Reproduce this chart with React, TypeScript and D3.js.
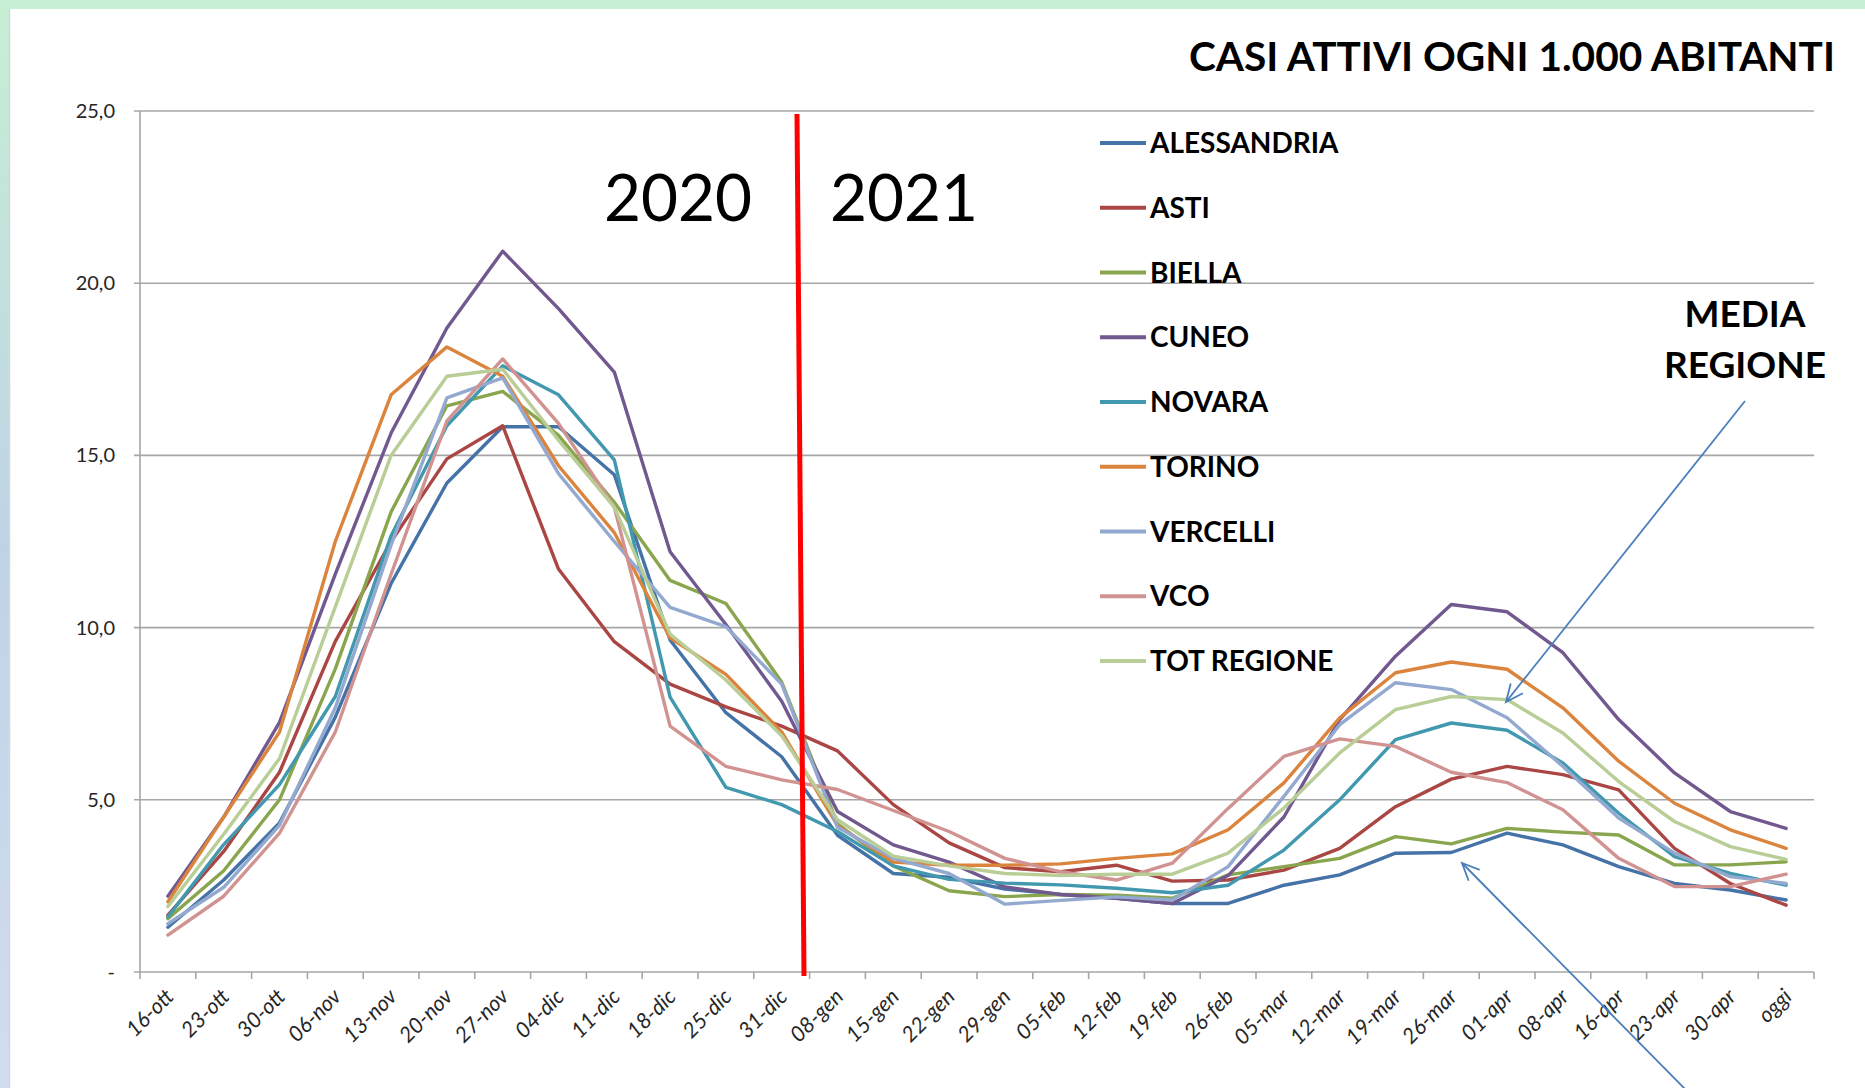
import React from "react";
import * as d3 from "d3";

const categories = ["16-ott","23-ott","30-ott","06-nov","13-nov","20-nov","27-nov","04-dic","11-dic","18-dic","25-dic","31-dic","08-gen","15-gen","22-gen","29-gen","05-feb","12-feb","19-feb","26-feb","05-mar","12-mar","19-mar","26-mar","01-apr","08-apr","16-apr","23-apr","30-apr","oggi"];

const alessandria = [1.3,2.67,4.33,7.4,11.28,14.2,15.83,15.83,14.44,9.64,7.53,6.25,3.97,2.86,2.75,2.41,2.25,2.14,1.99,1.99,2.52,2.82,3.45,3.47,4.03,3.69,3.06,2.57,2.38,2.09];
const asti = [1.65,3.5,5.8,9.6,12.5,14.9,15.86,11.7,9.59,8.36,7.7,7.14,6.42,4.86,3.75,3.03,2.91,3.1,2.64,2.67,2.96,3.59,4.8,5.6,5.97,5.73,5.29,3.59,2.57,1.94];
const biella = [1.55,2.94,5.0,8.8,13.36,16.44,16.86,15.58,13.64,11.37,10.7,8.42,4.3,3.08,2.36,2.19,2.25,2.23,2.14,2.82,3.06,3.3,3.93,3.72,4.17,4.06,3.98,3.11,3.11,3.2];
const cuneo = [2.2,4.5,7.25,11.55,15.65,18.7,20.93,19.26,17.42,12.2,10.09,7.86,4.66,3.69,3.19,2.47,2.25,2.14,1.99,2.8,4.5,7.33,9.17,10.67,10.46,9.27,7.33,5.78,4.66,4.17];
const novara = [1.6,3.7,5.44,8.0,12.67,15.86,17.6,16.76,14.87,7.98,5.36,4.86,4.08,3.08,2.69,2.58,2.53,2.43,2.3,2.52,3.54,5.0,6.75,7.23,7.02,6.07,4.61,3.35,2.86,2.52];
const torino = [2.04,4.5,6.97,12.5,16.76,18.15,17.3,14.7,12.76,9.7,8.64,6.97,4.25,3.19,3.1,3.1,3.14,3.3,3.43,4.13,5.49,7.38,8.69,9.0,8.79,7.67,6.12,4.9,4.13,3.59];
const vercelli = [1.4,2.46,4.26,7.67,12.4,16.67,17.25,14.47,12.5,10.59,10.03,8.36,4.2,3.3,2.86,1.97,2.08,2.18,2.09,3.06,5.1,7.18,8.4,8.2,7.38,5.97,4.47,3.45,2.77,2.57];
const vco = [1.07,2.2,4.03,6.97,11.55,16.0,17.8,15.93,13.5,7.14,5.97,5.58,5.3,4.69,4.08,3.3,2.91,2.67,3.16,4.75,6.26,6.77,6.55,5.8,5.5,4.71,3.3,2.48,2.48,2.84];
const totRegione = [1.9,4.0,6.2,10.6,15.0,17.3,17.5,15.44,13.5,9.81,8.48,6.86,4.42,3.36,3.08,2.86,2.8,2.84,2.84,3.45,4.76,6.36,7.62,8.0,7.91,6.94,5.53,4.37,3.64,3.27];

const seriesNames = ["ALESSANDRIA","ASTI","BIELLA","CUNEO","NOVARA","TORINO","VERCELLI","VCO","TOT REGIONE"];
const seriesValues = [alessandria, asti, biella, cuneo, novara, torino, vercelli, vco, totRegione];
const seriesColors = ["#4572A7","#AA4643","#89A54E","#71588F","#4198AF","#DB843D","#93A9CF","#D19392","#B9CD96"];

const yTicks = [0, 5, 10, 15, 20, 25];
const yTickLabel = (v: number) => (v === 0 ? "-" : v.toFixed(1).replace(".", ","));

const W = 1865, H = 1088;
const FONT = "Lato, 'Open Sans', sans-serif";

export default function App() {
  const x = d3.scaleBand<string>().domain(categories).range([140, 1814]).paddingInner(0).paddingOuter(0);
  const y = d3.scaleLinear().domain([0, 25]).range([972, 111]);
  const cx = (c: string) => (x(c) as number) + x.bandwidth() / 2;
  const line = d3.line<number>().x((_, i) => cx(categories[i])).y((d) => y(d));
  const boundaries = d3.range(categories.length + 1).map((k) => 140 + k * x.bandwidth());

  const arrowHead = (tx: number, ty: number, fx: number, fy: number, len = 19, ang = 0.42) => {
    const a = Math.atan2(fy - ty, fx - tx);
    const p1 = [tx + len * Math.cos(a + ang), ty + len * Math.sin(a + ang)];
    const p2 = [tx + len * Math.cos(a - ang), ty + len * Math.sin(a - ang)];
    return `M${p1[0]},${p1[1]}L${tx},${ty}L${p2[0]},${p2[1]}`;
  };

  return (
    <div style={{ position: "absolute", left: 0, top: 0, width: W, height: H }}>
      <svg width={W} height={H} style={{ display: "block" }}>
        <defs>
          <linearGradient id="leftg" x1="0" y1="0" x2="0" y2="1">
            <stop offset="0" stopColor="#c6efd4" />
            <stop offset="0.5" stopColor="#bfd3e6" />
            <stop offset="1" stopColor="#d2dcf0" />
          </linearGradient>
        </defs>
        <rect x={0} y={0} width={W} height={H} fill="#ffffff" />
        <rect x={0} y={0} width={W} height={9} fill="#c8f0d6" />
        <rect x={0} y={0} width={9} height={H} fill="url(#leftg)" />
        <line x1={9.5} y1={9} x2={9.5} y2={H} stroke="#d6d6d6" strokeWidth={1.5} />

        {/* title */}
        <text x={1189} y={71} fontFamily={FONT} fontWeight="bold" fontSize={41} fill="#000" textLength={646} lengthAdjust="spacingAndGlyphs">
          CASI ATTIVI OGNI 1.000 ABITANTI
        </text>

        {/* gridlines */}
        {yTicks.map((t) => (
          <g key={t}>
            <line x1={134} x2={1814} y1={y(t)} y2={y(t)} stroke="#a6a6a6" strokeWidth={1.6} />
            <text x={115} y={y(t)} dy="0.35em" textAnchor="end" fontFamily={FONT} fontSize={20} fill="#262626">
              {yTickLabel(t)}
            </text>
          </g>
        ))}
        <line x1={140} x2={140} y1={111} y2={972} stroke="#a6a6a6" strokeWidth={1.6} />
        {boundaries.map((bx, k) => (
          <line key={k} x1={bx} x2={bx} y1={972} y2={979} stroke="#a6a6a6" strokeWidth={1.6} />
        ))}

        {/* x labels */}
        {categories.map((c) => (
          <text key={c} transform={`translate(${cx(c) + 7},${998}) rotate(-45)`} textAnchor="end" fontFamily={FONT} fontStyle="italic" fontSize={21.5} fill="#262626">
            {c}
          </text>
        ))}

        {/* year labels */}
        <text x={604} y={221} fontFamily={FONT} fontSize={66} fill="#000" textLength={148} lengthAdjust="spacingAndGlyphs">2020</text>
        <text x={830} y={221} fontFamily={FONT} fontSize={66} fill="#000" textLength={148} lengthAdjust="spacingAndGlyphs">2021</text>

        {/* series */}
        {seriesValues.map((vals, s) => (
          <path key={seriesNames[s]} d={line(vals) as string} fill="none" stroke={seriesColors[s]} strokeWidth={3.4} strokeLinejoin="round" strokeLinecap="round" />
        ))}

        {/* red divider */}
        <line x1={797} y1={114} x2={804} y2={976} stroke="#ff0000" strokeWidth={5} />

        {/* legend */}
        {seriesNames.map((n, k) => {
          const ly = 143 + k * 64.75;
          return (
            <g key={n}>
              <line x1={1100} x2={1146} y1={ly} y2={ly} stroke={seriesColors[k]} strokeWidth={4} />
              <text x={1150} y={ly + 10} fontFamily={FONT} fontWeight="bold" fontSize={28} fill="#000">{n}</text>
            </g>
          );
        })}

        {/* annotation */}
        <text x={1745} y={327} textAnchor="middle" fontFamily={FONT} fontWeight="bold" fontSize={37} fill="#000">MEDIA</text>
        <text x={1745} y={378} textAnchor="middle" fontFamily={FONT} fontWeight="bold" fontSize={37} fill="#000">REGIONE</text>
        <line x1={1745} y1={401} x2={1506} y2={702} stroke="#4a7ebb" strokeWidth={1.8} />
        <path d={arrowHead(1506, 702, 1745, 401)} fill="none" stroke="#4a7ebb" strokeWidth={1.8} />
        <line x1={1686} y1={1090} x2={1462} y2={863} stroke="#4a7ebb" strokeWidth={1.8} />
        <path d={arrowHead(1462, 863, 1686, 1090)} fill="none" stroke="#4a7ebb" strokeWidth={1.8} />
      </svg>
    </div>
  );
}
